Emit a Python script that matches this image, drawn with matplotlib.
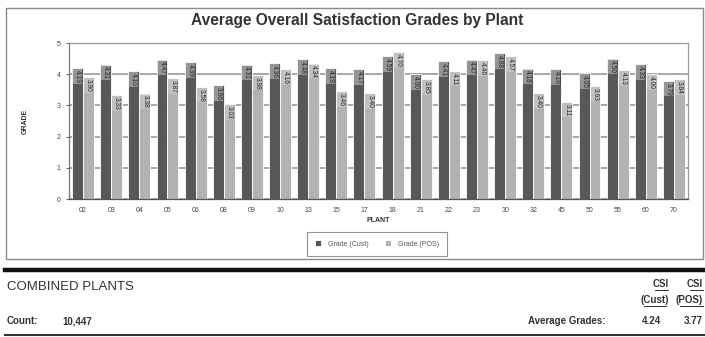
import numpy as np
import matplotlib.pyplot as plt
from matplotlib.patches import Rectangle
from matplotlib.lines import Line2D

plt.rcParams['font.family'] = ['Liberation Sans', 'DejaVu Sans']

plants = ['02', '03', '04', '05', '06', '08', '09', '10', '13', '15', '17',
          '18', '21', '22', '23', '30', '32', '45', '50', '55', '60', '70']
grade_cust = [4.19, 4.31, 4.10, 4.47, 4.39, 3.66, 4.31, 4.36, 4.48, 4.19, 4.17,
              4.59, 4.00, 4.41, 4.47, 4.68, 4.18, 4.16, 4.05, 4.50, 4.33, 3.79]
grade_pos = [3.90, 3.33, 3.38, 3.87, 3.58, 3.03, 3.98, 4.16, 4.34, 3.46, 3.40,
             4.70, 3.85, 4.11, 4.46, 4.57, 3.40, 3.11, 3.63, 4.13, 4.00, 3.84]
count = '10,447'
avg_cust = 4.24
avg_pos = 3.77

W, H = 705, 337
fig = plt.figure(figsize=(W / 100, H / 100), dpi=100)
fig.patch.set_facecolor('white')

def px(x, y):
    # pixel coords (from top-left) -> figure fraction
    return x / W, 1 - y / H

# outer chart frame
fig.patches.append(Rectangle(px(6, 259), 697 / W, 251 / H, transform=fig.transFigure,
                             fill=False, edgecolor='#8a8a8a', linewidth=1.0))

ax = fig.add_axes([69 / W, 1 - 199 / H, 619 / W, 156 / H])
x = np.arange(len(plants))
bw = 0.39
dark = '#585858'
light = '#b2b2b2'
b1 = ax.bar(x - bw / 2, grade_cust, bw, color=dark, edgecolor='white', linewidth=0.6,
            label='Grade (Cust)', zorder=2)
b2 = ax.bar(x + bw / 2, grade_pos, bw, color=light, edgecolor='white', linewidth=0.6,
            label='Grade (POS)', zorder=2)

for xs, vals in ((x - bw / 2, grade_cust), (x + bw / 2, grade_pos)):
    for xi, v in zip(xs, vals):
        ax.text(xi, v - 0.06, f'{v:.2f}', rotation=270, ha='center', va='top',
                fontsize=4.8, color='#2a2a2a', zorder=3,
                bbox=dict(boxstyle='square,pad=0.15', facecolor='#d0d0d0',
                          edgecolor='none', alpha=0.5))

ax.set_xlim(-0.5, len(plants) - 0.5)
ax.set_ylim(0, 5)
ax.set_yticks(range(6))
ax.yaxis.grid(True, color='#909090', linewidth=1.1, zorder=0)
ax.set_axisbelow(True)
ax.set_xticks(x)
ax.set_xticklabels(plants)
ax.tick_params(axis='both', labelsize=5, colors='#444444', length=2, width=0.6, pad=4)
ax.tick_params(axis='x', length=0, pad=6)
for s in ('top', 'right'):
    ax.spines[s].set_color('#9a9a9a')
ax.spines['left'].set_color('#777777')
ax.spines['bottom'].set_color('#555555')
for s in ax.spines.values():
    s.set_linewidth(0.9)

ax.set_ylabel('GRADE', fontsize=5, fontweight='bold', color='#333333', labelpad=20)
ax.set_xlabel('PLANT', fontsize=5, fontweight='bold', color='#333333', labelpad=2)

fig.text(*px(357, 20), 'Average Overall Satisfaction Grades by Plant',
         ha='center', va='center', fontsize=11.2, fontweight='bold', color='#333333')

leg = fig.legend(handles=[b1, b2], loc='center', bbox_to_anchor=px(377, 244), ncol=2,
                 fontsize=5, frameon=True, fancybox=False, handlelength=0.9,
                 handleheight=0.9, columnspacing=2.4, handletextpad=0.9,
                 borderpad=1.2, borderaxespad=0)
leg.get_frame().set_edgecolor('#777777')
leg.get_frame().set_linewidth(0.8)
for t in leg.get_texts():
    t.set_color('#555555')

# summary block below the chart
fig.add_artist(Line2D([5 / W, 1], [1 - 269.5 / H] * 2, transform=fig.transFigure,
                      color='#111111', linewidth=3.2))
fig.add_artist(Line2D([5 / W, 1], [1 - 335 / H] * 2, transform=fig.transFigure,
                      color='#333333', linewidth=1.5))

narrow = ['Liberation Sans Narrow', 'Liberation Sans', 'DejaVu Sans']
bold7 = dict(fontsize=7, fontweight='bold', family=narrow, color='#333333', va='center')
fig.text(*px(7, 287), 'COMBINED PLANTS', ha='left', va='center', fontsize=9.5,
         color='#333333')
fig.text(*px(7, 321), 'Count:', ha='left', **bold7)
fig.text(*px(62, 321), count, ha='left', **bold7)
fig.text(*px(606, 321), 'Average Grades:', ha='right', **bold7)
fig.text(*px(652, 321), f'{avg_cust:.2f}', ha='center', **bold7)
fig.text(*px(703, 321), f'{avg_pos:.2f}', ha='right', **bold7)

fig.text(*px(661, 284), 'CSI', ha='center', **bold7)
fig.text(*px(655, 300), '(Cust)', ha='center', **bold7)
fig.text(*px(703, 284), 'CSI', ha='right', **bold7)
fig.text(*px(703, 300), '(POS)', ha='right', **bold7)
for x0, x1, y in ((655, 668, 290), (644, 666, 306), (690, 703, 290), (680, 703, 306)):
    fig.add_artist(Line2D([x0 / W, x1 / W], [1 - y / H] * 2, transform=fig.transFigure,
                          color='#333333', linewidth=0.7))

fig.savefig('out.png', dpi=100, facecolor='white')
